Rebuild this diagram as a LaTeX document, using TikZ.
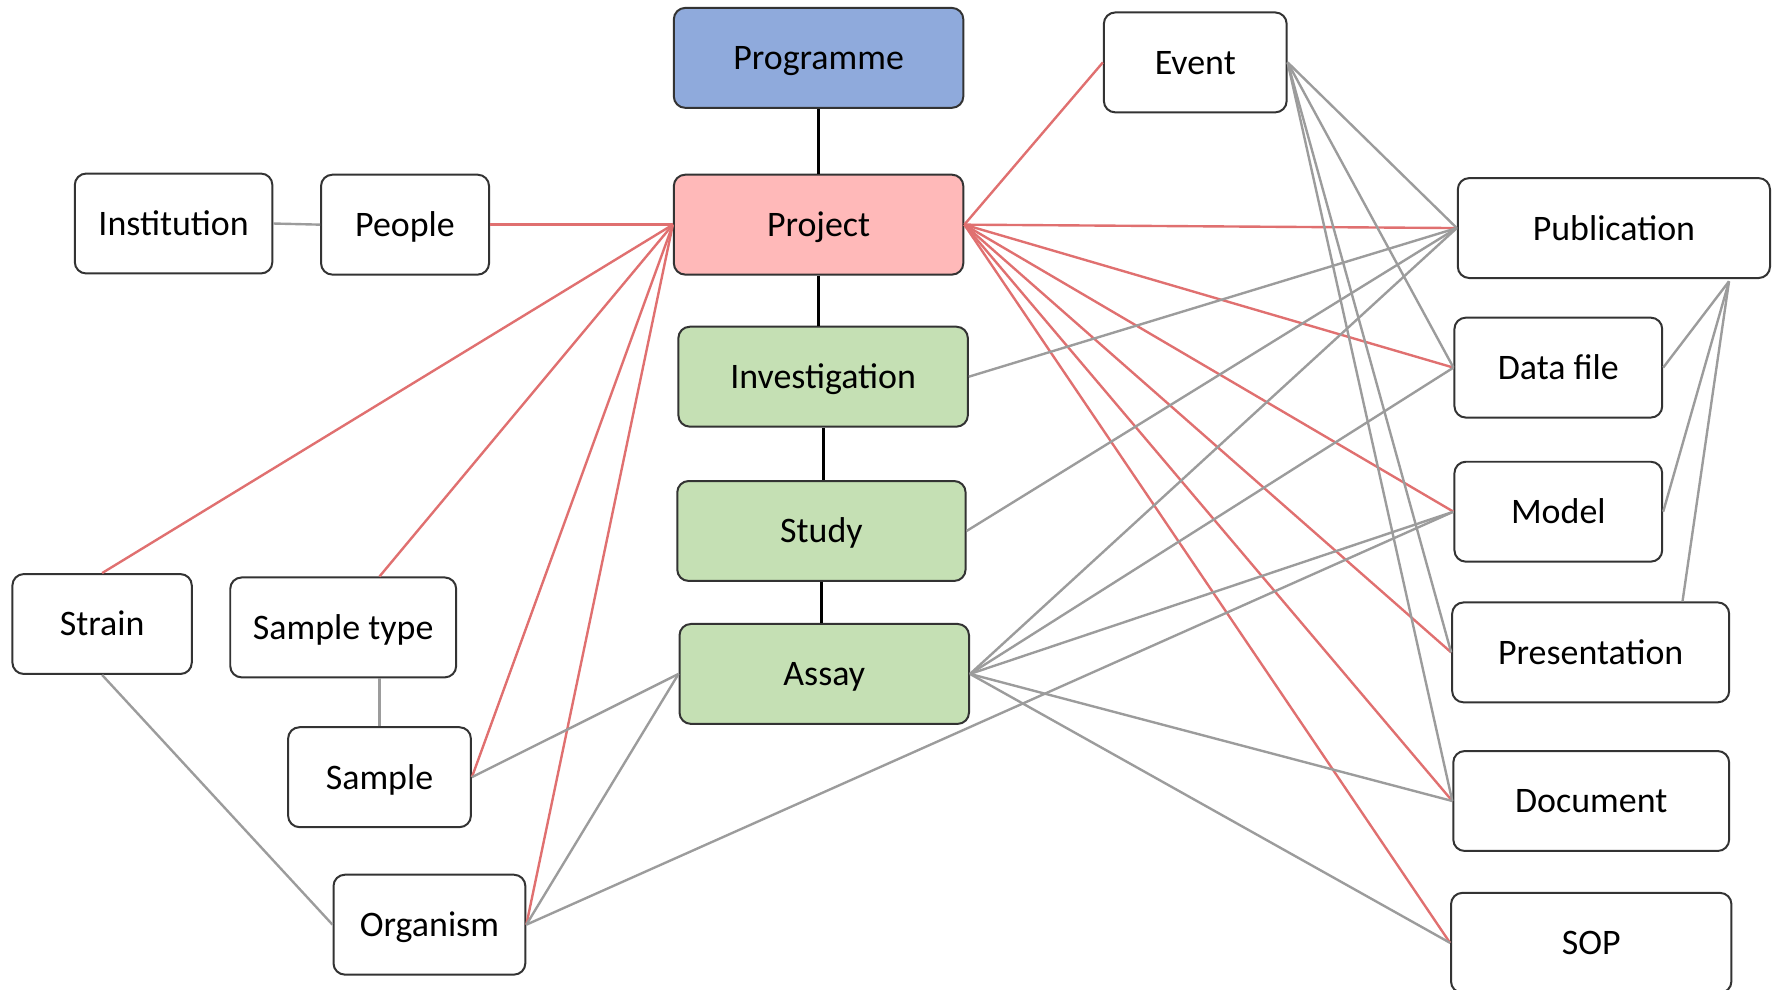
\documentclass[tikz,border=0pt]{standalone}
\usepackage{fontspec}
\setmainfont{Carlito}
\usetikzlibrary{positioning,calc}
\definecolor{progblue}{HTML}{8FAADC}
\definecolor{projpink}{HTML}{FFB9B9}
\definecolor{isagreen}{HTML}{C5E0B4}
\definecolor{linkred}{HTML}{E07070}
\definecolor{linkgrey}{HTML}{9C9C9C}

\begin{document}
\begin{tikzpicture}[x=0.01cm,y=-0.01cm,thin]
\tikzstyle{entity}=[shape=rectangle,draw=black!80,line width=0.5pt,rounded corners=0.1cm,fill=white,text=black,minimum height=0.88cm,inner sep=0pt,text height=0.62em,text depth=0.02em,font=\fontsize{9}{11}\selectfont]
\tikzstyle{redlink}=[draw=linkred,line width=0.6pt]
\tikzstyle{greylink}=[draw=linkgrey,line width=0.6pt]
\tikzstyle{mainlink}=[draw=black,line width=0.8pt]

\useasboundingbox (0,0) rectangle (1568,872);

% ISA column
\node[entity,fill=progblue,minimum width=2.55cm] (prog)  at (721.5,51)  {Programme};
\node[entity,fill=projpink,minimum width=2.55cm] (proj)  at (721.5,198) {Project};
\node[entity,fill=isagreen,minimum width=2.55cm] (inv)   at (725.5,332) {Investigation};
\node[entity,fill=isagreen,minimum width=2.54cm] (stud)  at (724,468)   {Study};
\node[entity,fill=isagreen,minimum width=2.55cm] (assay) at (726.5,594) {Assay};

% left side
\node[entity,minimum width=1.74cm] (inst)   at (153,197)   {Institution};
\node[entity,minimum width=1.48cm] (ppl)    at (357,198)   {People};
\node[entity,minimum width=1.58cm] (strain) at (90,550)    {Strain};
\node[entity,minimum width=1.99cm] (stype)  at (302.5,553) {Sample type};
\node[entity,minimum width=1.61cm] (samp)   at (334.5,685) {Sample};
\node[entity,minimum width=1.69cm] (org)    at (378.5,815) {Organism};

% right side
\node[entity,minimum width=1.61cm] (evt)   at (1053.5,55)  {Event};
\node[entity,minimum width=2.75cm] (pub)   at (1422.5,201) {Publication};
\node[entity,minimum width=1.83cm] (dfile) at (1373.5,324) {Data file};
\node[entity,minimum width=1.83cm] (model) at (1373.5,451) {Model};
\node[entity,minimum width=2.44cm] (pres)  at (1402,575)   {Presentation};
\node[entity,minimum width=2.43cm] (doc)   at (1402.5,706) {Document};
\node[entity,minimum width=2.47cm] (sop)   at (1402.5,831) {SOP};

\coordinate (pubfoot) at ($(pub.south east)+(-37,2)$);
\coordinate (prestop) at ($(pres.north east)+(-42,0)$);
\coordinate (stypetop) at (samp.north |- stype.north);

% hierarchy
\path[mainlink]
(prog.south) edge (prog.south |- proj.north)
(proj.south) edge (proj.south |- inv.north)
(inv.south)  edge (inv.south |- stud.north)
(stud.south) edge (stud.south |- assay.north)
;

% project links
\path[redlink]
(proj.west) edge (ppl.east)
(proj.west) edge (strain.north)
(proj.west) edge (stypetop)
(proj.west) edge (samp.east)
(proj.west) edge (org.east)
(proj.east) edge (evt.west)
(proj.east) edge (pub.west)
(proj.east) edge (dfile.west)
(proj.east) edge (model.west)
(proj.east) edge (pres.west)
(proj.east) edge (doc.west)
(proj.east) edge (sop.west)
;

% other links
\path[greylink]
(inst.east) edge (ppl.west)
(samp.north) edge (samp.north |- stype.south)
(strain.south) edge (org.west)
(samp.east) edge (assay.west)
(org.east) edge (assay.west)
(org.east) edge (model.west)
(evt.east) edge (pub.west)
(evt.east) edge (dfile.west)
(evt.east) edge (pres.west)
(evt.east) edge (doc.west)
(inv.east) edge (pub.west)
(stud.east) edge (pub.west)
(assay.east) edge (pub.west)
(assay.east) edge (dfile.west)
(assay.east) edge (model.west)
(assay.east) edge (doc.west)
(assay.east) edge (sop.west)
(pubfoot) edge (dfile.east)
(pubfoot) edge (model.east)
(pubfoot) edge (prestop)
;
\end{tikzpicture}
\end{document}
